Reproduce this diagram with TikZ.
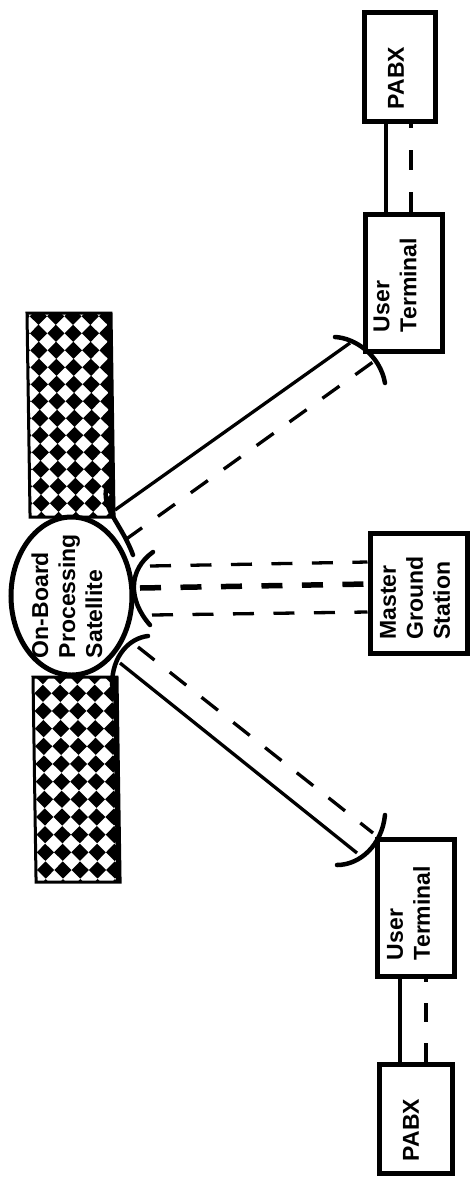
\documentclass[tikz,border=0pt]{standalone}
\usepackage{fontspec}
\setmainfont{Liberation Sans}
\usetikzlibrary{shapes.geometric}

\begin{document}
\begin{tikzpicture}[x=1pt,y=-1pt,
    unitbox/.style={draw,line width=5pt,inner sep=0pt,minimum width=#1},
    boxlabel/.style={rotate=90,align=left,inner sep=0pt,font=\bfseries\fontsize{23}{27}\selectfont},
    beamline/.style={line width=3.3pt},
    beamdash/.style={line width=3.3pt,dash pattern=on 21pt off 19.5pt},
    dish/.style={line width=4.5pt,line cap=round}]
    \useasboundingbox (0,0) rectangle (471,1184);
    % solar panels
    \foreach \ax/\ay/\ox/\oy/\ys/\h in {27/313/11.3/20.3/17/204, 33/677/9.7/16.3/17.67/205}{
    \begin{scope}[shift={(\ax,\ay)},xslant=-0.015]
    \begin{scope}
    \clip (0,0) rectangle (84,\h);
    \foreach \i in {-1,...,4}
      \foreach \j in {-1,...,11}
        \fill (\ox+\i*17.3-8.6,\oy+\j*\ys) -- (\ox+\i*17.3,\oy+\j*\ys-8.6) -- (\ox+\i*17.3+8.6,\oy+\j*\ys) -- (\ox+\i*17.3,\oy+\j*\ys+8.6) -- cycle;
    \fill (80,0) rectangle (84,\h);
    \end{scope}
    \draw[line width=3pt] (0,0) rectangle (84,\h);
    \end{scope}}
    \node[unitbox=121pt,shape=ellipse,fill=white,minimum height=158pt] (satellite) at (71.5,596) {};
    \node[boxlabel] (satellitetext) at (67,596) {On-Board\\Processing\\Satellite};

    \node[unitbox=71pt,minimum height=109pt] (pabxtop) at (399.5,66.5) {};
    \node[boxlabel] (pabxtoptext) at (396,78) {PABX};
    \node[unitbox=77pt,minimum height=137pt] (termtop) at (403.5,282.5) {};
    \node[boxlabel] (termtoptext) at (395,285) {User\\Terminal};
    \node[unitbox=97pt,minimum height=120pt] (master) at (418.5,593) {};
    \node[boxlabel] (mastertext) at (415,598) {Master\\Ground\\Station};
    \node[unitbox=77pt,minimum height=137pt] (termbot) at (415.5,907.5) {};
    \node[boxlabel] (termbottext) at (408.5,913) {User\\Terminal};
    \node[unitbox=73pt,minimum height=109pt] (pabxbot) at (415.5,1118.5) {};
    \node[boxlabel] (pabxbottext) at (411,1130) {PABX};

    % antenna dishes
    \draw[dish] (106,490) .. controls (103,510) and (122,525) .. (133,555);
    \draw[dish] (153,552) .. controls (128,570) and (128,600) .. (150,625);
    \draw[dish] (148,636) .. controls (130,638) and (112,655) .. (112,685);
    \draw[dish] (335,337) .. controls (355,338) and (380,355) .. (385,383);
    \draw[dish] (385,815) .. controls (382,845) and (360,865) .. (337,865);

    \coordinate (satsolidtop) at (115,510);
    \coordinate (satdashtop) at (125,540);
    \coordinate (termsolidtop) at (350,343);
    \coordinate (termdashtop) at (373,362);
    \coordinate (satsolidbot) at (120,663);
    \coordinate (satdashbot) at (138,647);
    \coordinate (termsolidbot) at (357,853);
    \coordinate (termdashbot) at (373,833);
    \coordinate (satmastera) at (150,566);
    \coordinate (satmasterb) at (140,588);
    \coordinate (satmasterc) at (152,615);

    % links to the terminals
    \draw[beamline] (satsolidtop) -- (termsolidtop);
    \draw[beamdash] (satdashtop) -- (termdashtop);
    \draw[beamline] (satsolidbot) -- (termsolidbot);
    \draw[beamdash] (satdashbot) -- (termdashbot);
    % links to the master station
    \draw[beamdash] (satmastera) -- ([yshift=31pt]master.west);
    \draw[beamdash,line width=5.5pt] (satmasterb) -- ([yshift=9pt]master.west);
    \draw[beamdash] (satmasterc) -- ([yshift=-19pt]master.west);
    % terminal to exchange
    \draw[beamline] ([xshift=-13.5pt]pabxtop.south) -- ([xshift=-17.5pt]termtop.north);
    \draw[beamdash,dash pattern=on 20pt off 22pt] ([xshift=7.5pt]termtop.north) -- ([xshift=11.5pt]pabxtop.south);
    \draw[beamline] ([xshift=-15.5pt]termbot.south) -- ([xshift=-15.5pt]pabxbot.north);
    \draw[beamdash,dash pattern=on 19pt off 21pt] ([xshift=10.5pt]pabxbot.north) -- ([xshift=10.5pt]termbot.south);
\end{tikzpicture}
\end{document}
